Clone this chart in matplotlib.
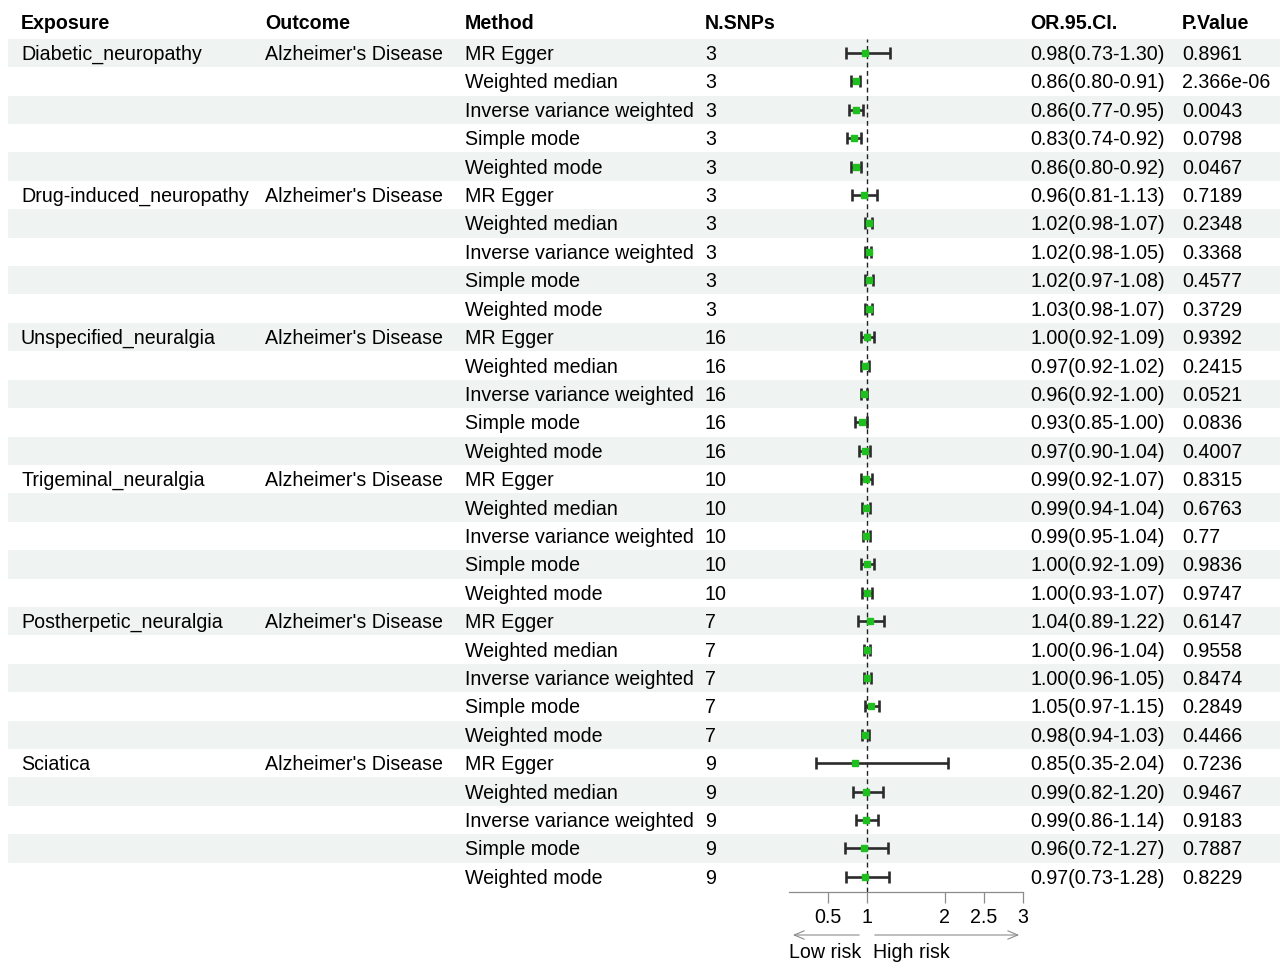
import matplotlib
matplotlib.use("Agg")
import matplotlib.pyplot as plt
from matplotlib.patches import Rectangle

plt.rcParams['font.family'] = ['Liberation Sans', 'DejaVu Sans']

# ---- data -------------------------------------------------------------
exposures = ["Diabetic_neuropathy", "Drug-induced_neuropathy", "Unspecified_neuralgia",
             "Trigeminal_neuralgia", "Postherpetic_neuralgia", "Sciatica"]
outcome = "Alzheimer's Disease"
methods = ["MR Egger", "Weighted median", "Inverse variance weighted",
           "Simple mode", "Weighted mode"]
n_snps = [3, 3, 16, 10, 7, 9]

odds = [0.98, 0.86, 0.86, 0.83, 0.86,
        0.96, 1.02, 1.02, 1.02, 1.03,
        1.00, 0.97, 0.96, 0.93, 0.97,
        0.99, 0.99, 0.99, 1.00, 1.00,
        1.04, 1.00, 1.00, 1.05, 0.98,
        0.85, 0.99, 0.99, 0.96, 0.97]
lower = [0.73, 0.80, 0.77, 0.74, 0.80,
         0.81, 0.98, 0.98, 0.97, 0.98,
         0.92, 0.92, 0.92, 0.85, 0.90,
         0.92, 0.94, 0.95, 0.92, 0.93,
         0.89, 0.96, 0.96, 0.97, 0.94,
         0.35, 0.82, 0.86, 0.72, 0.73]
upper = [1.30, 0.91, 0.95, 0.92, 0.92,
         1.13, 1.07, 1.05, 1.08, 1.07,
         1.09, 1.02, 1.00, 1.00, 1.04,
         1.07, 1.04, 1.04, 1.09, 1.07,
         1.22, 1.04, 1.05, 1.15, 1.03,
         2.04, 1.20, 1.14, 1.27, 1.28]
p_values = ["0.8961", "2.366e-06", "0.0043", "0.0798", "0.0467",
            "0.7189", "0.2348", "0.3368", "0.4577", "0.3729",
            "0.9392", "0.2415", "0.0521", "0.0836", "0.4007",
            "0.8315", "0.6763", "0.77", "0.9836", "0.9747",
            "0.6147", "0.9558", "0.8474", "0.2849", "0.4466",
            "0.7236", "0.9467", "0.9183", "0.7887", "0.8229"]

headers = ["Exposure", "Outcome", "Method", "N.SNPs", "OR.95.CI.", "P.Value"]
x_ticks = [0.5, 1, 2, 2.5, 3]
x_tick_labels = ["0.5", "1", "2", "2.5", "3"]

# ---- layout (pixel space) ---------------------------------------------
W, H = 1280, 963
FS = 14.1
row_h = 28.41
first_center = 53.0
header_y = 22.0
text_dy = 1.5
col_x = [21, 265, 465, 705, 1030, 1182]
stripe_color = "#eff3f2"

fig = plt.figure(figsize=(W / 100, H / 100), dpi=100)
bg = fig.add_axes([0, 0, 1, 1])
bg.set_xlim(0, W)
bg.set_ylim(H, 0)
bg.axis("off")

n_rows = len(odds)
row_y = [first_center + i * row_h for i in range(n_rows)]
table_top = first_center - row_h / 2
axis_y = 891.7

# striped background
for i, y in enumerate(row_y):
    if i % 2 == 0:
        bg.add_patch(Rectangle((8, y - row_h / 2), W - 8, row_h,
                               facecolor=stripe_color, edgecolor="none", zorder=0))

# header row
for x, h in zip(col_x, headers):
    bg.text(x, header_y + text_dy, h, fontsize=FS, fontweight="bold",
            va="center", ha="left")

# body rows
for i, y in enumerate(row_y):
    g, m = divmod(i, len(methods))
    ty = y + text_dy
    if m == 0:
        bg.text(col_x[0], ty, exposures[g], fontsize=FS, va="center", ha="left")
        bg.text(col_x[1], ty, outcome, fontsize=FS, va="center", ha="left")
    bg.text(col_x[2], ty, methods[m], fontsize=FS, va="center", ha="left")
    bg.text(col_x[3], ty, str(n_snps[g]), fontsize=FS, va="center", ha="left")
    bg.text(col_x[4], ty, f"{odds[i]:.2f}({lower[i]:.2f}-{upper[i]:.2f})",
            fontsize=FS, va="center", ha="left")
    bg.text(col_x[5], ty, p_values[i], fontsize=FS, va="center", ha="left")

# ---- forest panel -------------------------------------------------------
fx_left, fx_right = 789, 1023
fx = fig.add_axes([fx_left / W, (H - axis_y) / H,
                   (fx_right - fx_left) / W, (axis_y - table_top) / H])
fx.set_facecolor("none")
fx.set_xlim(0, 3)
fx.set_ylim(axis_y, table_top)
for s in ["top", "left", "right"]:
    fx.spines[s].set_visible(False)
fx.spines["bottom"].set_color("#8c8c8c")
fx.spines["bottom"].set_linewidth(0.9)
fx.set_yticks([])
fx.set_xticks(x_ticks)
fx.set_xticklabels(x_tick_labels, fontsize=FS)
fx.tick_params(axis="x", direction="out", length=8, width=0.9,
               color="#8c8c8c", pad=4)

fx.axvline(1, color="#222222", lw=1.0, linestyle=(0, (3.5, 2.5)), zorder=1)

err_lo = [o - l for o, l in zip(odds, lower)]
err_hi = [u - o for o, u in zip(odds, upper)]
fx.errorbar(odds, row_y, xerr=[err_lo, err_hi], fmt="none",
            ecolor="#2b2b2b", elinewidth=1.9, capsize=4.2, capthick=1.9, zorder=2)
fx.plot(odds, row_y, linestyle="none", marker="s", markersize=3.8,
        markerfacecolor="#1fbf1f", markeredgecolor="#1fbf1f", zorder=3)

# ---- risk arrows --------------------------------------------------------
arrow_y = 935
arrow_kw = dict(arrowstyle="->,head_length=0.6,head_width=0.25",
                color="#8c8c8c", lw=0.8, mutation_scale=12)
bg.annotate("", xy=(790, arrow_y), xytext=(862, arrow_y), arrowprops=arrow_kw)
bg.annotate("", xy=(1022, arrow_y), xytext=(872, arrow_y), arrowprops=arrow_kw)
bg.text(861, 951 + text_dy, "Low risk", fontsize=FS, ha="right", va="center")
bg.text(873, 951 + text_dy, "High risk", fontsize=FS, ha="left", va="center")

fig.savefig("out.png", dpi=100)
